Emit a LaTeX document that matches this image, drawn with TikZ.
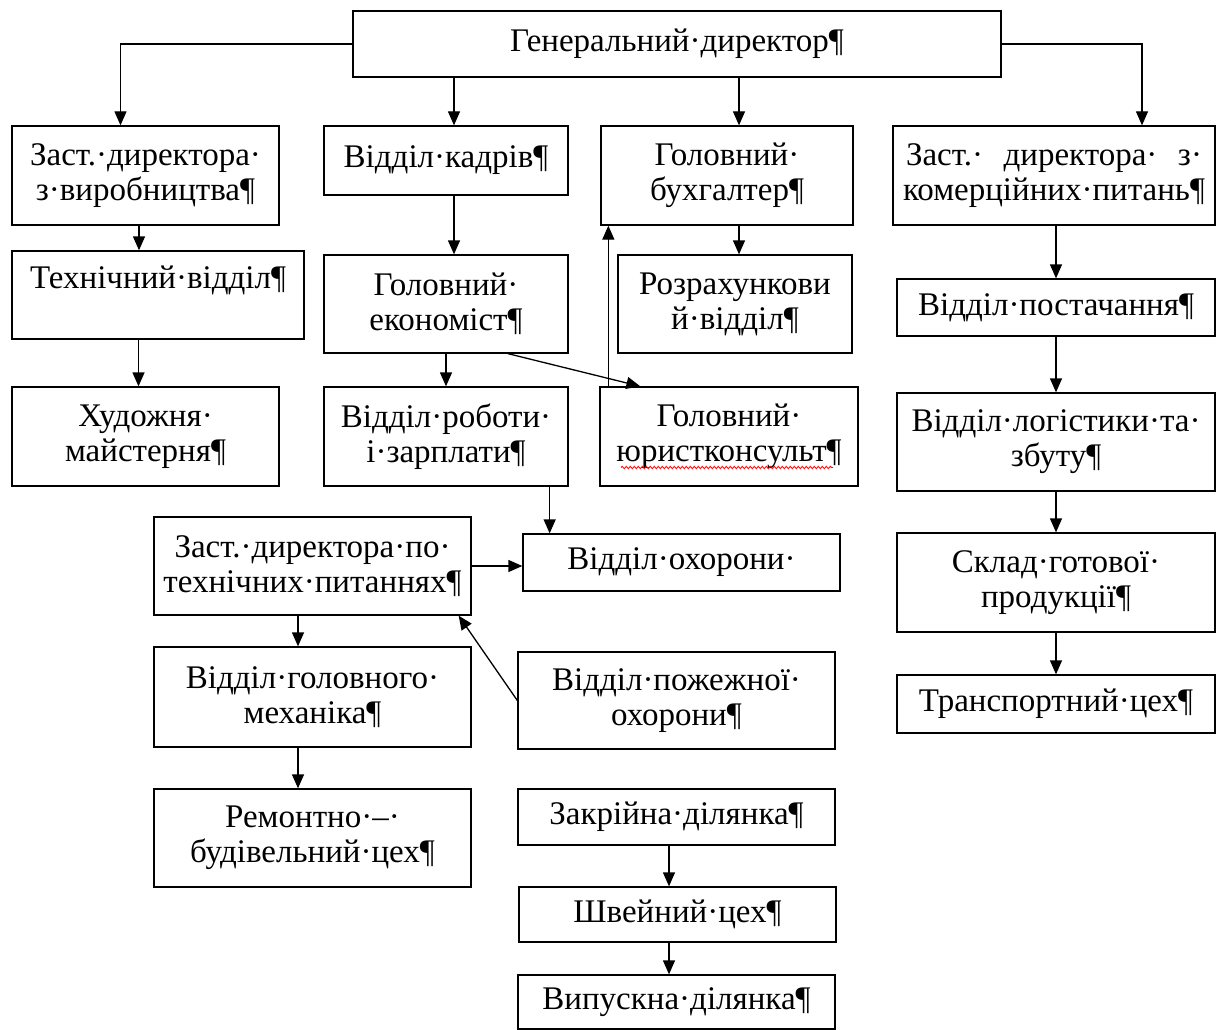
\documentclass[tikz,border=0pt]{standalone}
\usepackage{fontspec}
\setmainfont{Liberation Serif}
\usetikzlibrary{arrows.meta,decorations.pathmorphing}

\newcommand{\boxfont}{\fontsize{33}{35}\selectfont}

\begin{document}
\begin{tikzpicture}[x=1pt,y=-1pt,
  box/.style={draw, line width=1.3pt, align=center, inner sep=0pt, font=\boxfont},
  arr/.style={-{Triangle[length=14pt,width=12pt]}, line width=1.3pt}]
  \useasboundingbox (0,0) rectangle (1218,1030);

  % top
  \node[box, minimum width=648pt, minimum height=66pt] (gen) at (677,44) {Генеральний·директор¶};

  % first row
  \node[box, minimum width=267pt, minimum height=99pt] (zvyr) at (145.5,175.5) {Заст.·директора·\\з·виробництва¶};
  \node[box, minimum width=244pt, minimum height=69pt] (kadr) at (446,160.5) {Відділ·кадрів¶};
  \node[box, minimum width=252pt, minimum height=99pt] (buh) at (727,175.5) {Головний·\\бухгалтер¶};
  \node[box, minimum width=322pt, minimum height=99pt] (zkom) at (1054,175.5)
    {\makebox[296pt]{Заст.·\hfill директора·\hfill з·}\\комерційних·питань¶};

  % second row
  \node[box, minimum width=292pt, minimum height=88pt] (tech) at (158,295) {Технічний·відділ¶\\\mbox{}};
  \node[box, minimum width=244pt, minimum height=98pt] (econ) at (446,304) {Головний·\\економіст¶};
  \node[box, minimum width=234pt, minimum height=98pt] (rozr) at (735,304) {Розрахункови\\й·відділ¶};
  \node[box, minimum width=318pt, minimum height=57pt] (post) at (1056,307.5) {Відділ·постачання¶};

  % third row
  \node[box, minimum width=267pt, minimum height=99pt] (hud) at (145.5,436.5) {Художня·\\майстерня¶};
  \node[box, minimum width=244pt, minimum height=99pt] (zarp) at (446,436.5) {Відділ·роботи·\\і·зарплати¶};
  \node[box, minimum width=258pt, minimum height=99pt] (jur) at (729,436.5) {Головний·\\юристконсульт¶};
  \node[box, minimum width=318pt, minimum height=98pt] (log) at (1056,442) {Відділ·логістики·та·\\збуту¶};

  % middle
  \node[box, minimum width=317pt, minimum height=98pt] (ztech) at (312.5,566) {Заст.·директора·по·\\технічних·питаннях¶};
  \node[box, minimum width=317pt, minimum height=57pt] (ohor) at (681.5,562.5) {Відділ·охорони·};
  \node[box, minimum width=318pt, minimum height=99pt] (sklad) at (1056,582.5) {Склад·готової·\\продукції¶};
  \node[box, minimum width=317pt, minimum height=100pt] (meh) at (312.5,697) {Відділ·головного·\\механіка¶};
  \node[box, minimum width=317pt, minimum height=97pt] (pozh) at (676.5,700.5) {Відділ·пожежної·\\охорони¶};
  \node[box, minimum width=318pt, minimum height=58pt] (trans) at (1056,704) {Транспортний·цех¶};

  % bottom
  \node[box, minimum width=317pt, minimum height=98pt] (rem) at (312.5,838) {Ремонтно·–·\\будівельний·цех¶};
  \node[box, minimum width=317pt, minimum height=56pt] (zakr) at (676.5,817) {Закрійна·ділянка¶};
  \node[box, minimum width=317pt, minimum height=55pt] (shv) at (677.5,914.5) {Швейний·цех¶};
  \node[box, minimum width=317pt, minimum height=54pt] (vyp) at (676.5,1002) {Випускна·ділянка¶};

  % spelling mark
  \draw[red, line width=0.8pt, decorate, decoration={snake, amplitude=1.2pt, segment length=4pt}]
    ([xshift=-108pt,yshift=-31pt]jur.center) -- ([xshift=104pt,yshift=-31pt]jur.center);

  % arrow ends
  \coordinate (zvyr in) at ([xshift=-25pt]zvyr.north);
  \coordinate (kadr in) at ([xshift=8pt]kadr.north);
  \coordinate (buh in) at ([xshift=12pt]buh.north);
  \coordinate (zkom in) at ([xshift=88pt]zkom.north);
  \coordinate (tech in) at ([xshift=-19pt]tech.north);
  \coordinate (hud in) at ([xshift=-7pt]hud.north);
  \coordinate (econ in) at ([xshift=8pt]econ.north);
  \coordinate (ej out) at ([xshift=62pt]econ.south);
  \coordinate (ej in) at ([xshift=41pt]jur.north west);
  \coordinate (jb out) at ([xshift=9pt]jur.north west);
  \coordinate (rozr in) at ([xshift=4pt]rozr.north);
  \coordinate (zo out) at ([xshift=-19pt]zarp.south east);
  \coordinate (meh in) at ([xshift=-14.5pt]meh.north);
  \coordinate (pz in) at ([xshift=-13pt]ztech.south east);
  \coordinate (rem in) at ([xshift=-14.5pt]rem.north);
  \coordinate (shv in) at ([xshift=-8.5pt]shv.north);
  \coordinate (vyp in) at ([xshift=-7.5pt]vyp.north);

  % connectors
  \draw[arr] (gen.west) -| (zvyr in);
  \draw[arr] (kadr in |- gen.south) -- (kadr in);
  \draw[arr] (buh in |- gen.south) -- (buh in);
  \draw[arr] (gen.east) -| (zkom in);
  \draw[arr] (tech in |- zvyr.south) -- (tech in);
  \draw[arr] (hud in |- tech.south) -- (hud in);
  \draw[arr] (econ in |- kadr.south) -- (econ in);
  \draw[arr] (zarp.north |- econ.south) -- (zarp.north);
  \draw[arr] (ej out) -- (ej in);
  \draw[arr] (jb out) -- (jb out |- buh.south);
  \draw[arr] (rozr in |- buh.south) -- (rozr in);
  \draw[arr] (zo out) -- (zo out |- ohor.north);
  \draw[arr] (ztech.east) -- (ohor.west |- ztech.east);
  \draw[arr] (meh in |- ztech.south) -- (meh in);
  \draw[arr] (pozh.west) -- (pz in);
  \draw[arr] (rem in |- meh.south) -- (rem in);
  \draw[arr] (post.north |- zkom.south) -- (post.north);
  \draw[arr] (post.south) -- (log.north);
  \draw[arr] (log.south) -- (sklad.north);
  \draw[arr] (sklad.south) -- (trans.north);
  \draw[arr] (shv in |- zakr.south) -- (shv in);
  \draw[arr] (vyp in |- shv.south) -- (vyp in);
\end{tikzpicture}
\end{document}
